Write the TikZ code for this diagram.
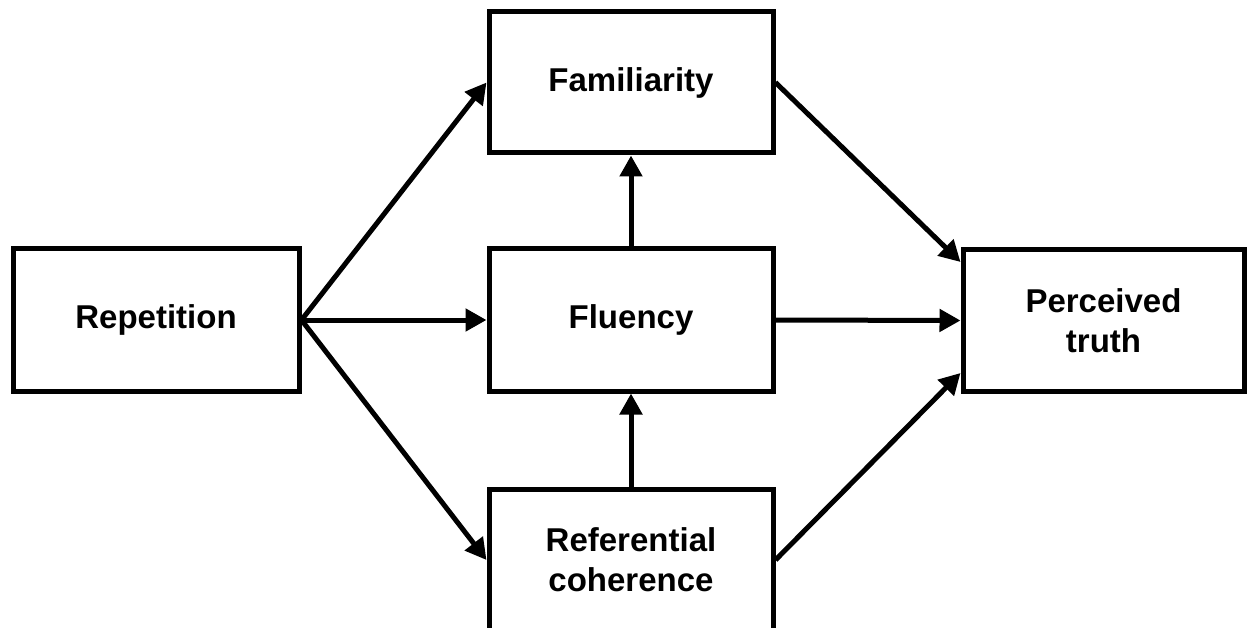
\documentclass[tikz,border=0pt]{standalone}
\usepackage{fontspec}
\setmainfont{Liberation Sans}
\usetikzlibrary{arrows.meta}
\begin{document}
\begin{tikzpicture}[x=1pt,y=-1pt,
  box/.style={draw=black, line width=5pt, minimum width=284pt, minimum height=141pt,
    align=center, inner sep=0pt, font=\fontsize{33}{40}\selectfont\bfseries},
  arr/.style={draw=black, line width=5pt, -{Triangle[length=21pt,width=22pt]}}]
\useasboundingbox (0,0) rectangle (1247,628);
\node[box, minimum width=286pt, minimum height=142pt] (rep) at (156,320) {Repetition};
\node[box] (fam) at (631,82.5) {Familiarity};
\node[box, minimum height=142pt] (flu) at (631,320) {Fluency};
\node[box] (ref) at (631,560) {Referential\\coherence};
\node[box, minimum width=281pt] (pt) at (1103.5,320.5) {Perceived\\truth};
\draw[arr] (rep.east) -- (fam.west);
\draw[arr] (rep.east) -- (flu.west);
\draw[arr] (rep.east) -- (ref.west);
\draw[arr] (flu.north) -- (fam.south);
\draw[arr] (ref.north) -- (flu.south);
\draw[arr] (fam.east) -- ([yshift=58.5pt]pt.west);
\draw[arr] (flu.east) -- (pt.west);
\draw[arr] (ref.east) -- ([yshift=-52.5pt]pt.west);
\end{tikzpicture}
\end{document}
